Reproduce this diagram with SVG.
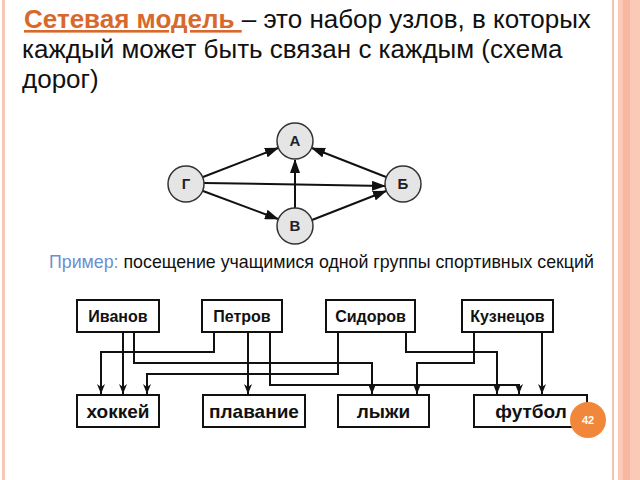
<svg xmlns="http://www.w3.org/2000/svg" width="640" height="480" viewBox="0 0 640 480">
<defs>
<style>
.t{font-family:"Liberation Sans",Arial,sans-serif;}
.title{font-size:26px;fill:#111;}
.hl{fill:#d8692c;font-weight:bold;text-decoration:underline;}
.node circle{fill:#e5e5e5;stroke:#333;stroke-width:1.5;}
.node text{font-family:"Liberation Sans",Arial,sans-serif;font-size:15px;font-weight:bold;fill:#222;text-anchor:middle;}
.box rect{fill:#fff;stroke:#111;stroke-width:2;}
.box text{font-family:"Liberation Sans",Arial,sans-serif;font-size:16px;font-weight:bold;fill:#111;text-anchor:middle;}
.box text.big{font-size:19px;}
.e1{stroke:#111;stroke-width:2;fill:none;marker-end:url(#a1);}
.e2{stroke:#111;stroke-width:2;fill:none;marker-end:url(#a2);}
</style>
<marker id="a1" markerUnits="userSpaceOnUse" markerWidth="14" markerHeight="10" refX="13" refY="5" orient="auto">
<path d="M0,0 L14,5 L0,10 z" fill="#111"/>
</marker>
<marker id="a2" markerUnits="userSpaceOnUse" markerWidth="10" markerHeight="8" refX="10" refY="4" orient="auto">
<path d="M0,0 L10,4 L0,8 L3,4 z" fill="#111"/>
</marker>
</defs>
<rect x="0" y="0" width="640" height="480" fill="#fff"/>
<rect x="2" y="0" width="3" height="480" fill="#f8c8b6"/>
<rect x="612" y="0" width="2" height="480" fill="#f7c2ae"/>
<rect x="618" y="0" width="22" height="480" fill="#fcc9b7"/>
<rect x="623" y="0" width="7" height="480" fill="#f6b8a0"/>

<text class="t title" x="24" y="28"><tspan class="hl">Сетевая модель </tspan>– это набор узлов, в которых</text>
<text class="t title" x="22" y="58">каждый может быть связан с каждым (схема</text>
<text class="t title" x="22" y="88">дорог)</text>

<g id="edges">
<line class="e1" x1="203" y1="177" x2="278" y2="148"/>
<line class="e1" x1="204" y1="183" x2="385" y2="186"/>
<line class="e1" x1="203" y1="191" x2="278" y2="219"/>
<line class="e1" x1="295" y1="208" x2="295" y2="160"/>
<line class="e1" x1="312" y1="220" x2="386" y2="191"/>
<line class="e1" x1="386" y1="177" x2="312" y2="148"/>
</g>
<g id="nA" class="node"><circle cx="295" cy="141" r="18"/><text x="295" y="146">А</text></g>
<g id="nG" class="node"><circle cx="186" cy="184" r="18"/><text x="186" y="189">Г</text></g>
<g id="nB" class="node"><circle cx="403" cy="184" r="18"/><text x="403" y="189">Б</text></g>
<g id="nV" class="node"><circle cx="295" cy="226" r="18"/><text x="295" y="231">В</text></g>

<text class="t" x="49" y="268" font-size="17.8" fill="#111"><tspan fill="#6b8fd2">Пример:</tspan> посещение учащимися одной группы спортивных секций</text>

<g id="connectors">
<path class="e2" d="M123,332 V394"/>
<path class="e2" d="M134,332 V363 H372 V394"/>
<path class="e2" d="M214,332 V352 H101 V394"/>
<path class="e2" d="M248,332 V394"/>
<path class="e2" d="M270,332 V385 H519 V394"/>
<path class="e2" d="M338,332 V374 H147 V394"/>
<path class="e2" d="M406,332 V352 H497 V394"/>
<path class="e2" d="M474,332 V363 H417 V394"/>
<path class="e2" d="M542,332 V394"/>
</g>

<g id="ivanov" class="box"><rect x="77" y="300" width="82" height="32"/><text x="118" y="322">Иванов</text></g>
<g id="petrov" class="box"><rect x="202" y="300" width="80" height="32"/><text x="242" y="322">Петров</text></g>
<g id="sidorov" class="box"><rect x="326" y="300" width="89" height="32"/><text x="370.5" y="322">Сидоров</text></g>
<g id="kuznetsov" class="box"><rect x="462" y="300" width="91" height="32"/><text x="507.5" y="322">Кузнецов</text></g>

<g id="hockey" class="box"><rect x="77" y="395" width="82" height="32"/><text class="big" x="118" y="418">хоккей</text></g>
<g id="swim" class="box"><rect x="203" y="395" width="102" height="32"/><text class="big" x="254" y="418">плавание</text></g>
<g id="ski" class="box"><rect x="338" y="395" width="91" height="32"/><text class="big" x="383.5" y="418">лыжи</text></g>
<g id="football" class="box"><rect x="474" y="395" width="113" height="32"/><text class="big" x="531" y="418">футбол</text></g>

<circle cx="588" cy="420" r="18" fill="#f0873a"/>
<text class="t" x="588" y="424" font-size="11" font-weight="bold" fill="#fff" text-anchor="middle">42</text>
</svg>
